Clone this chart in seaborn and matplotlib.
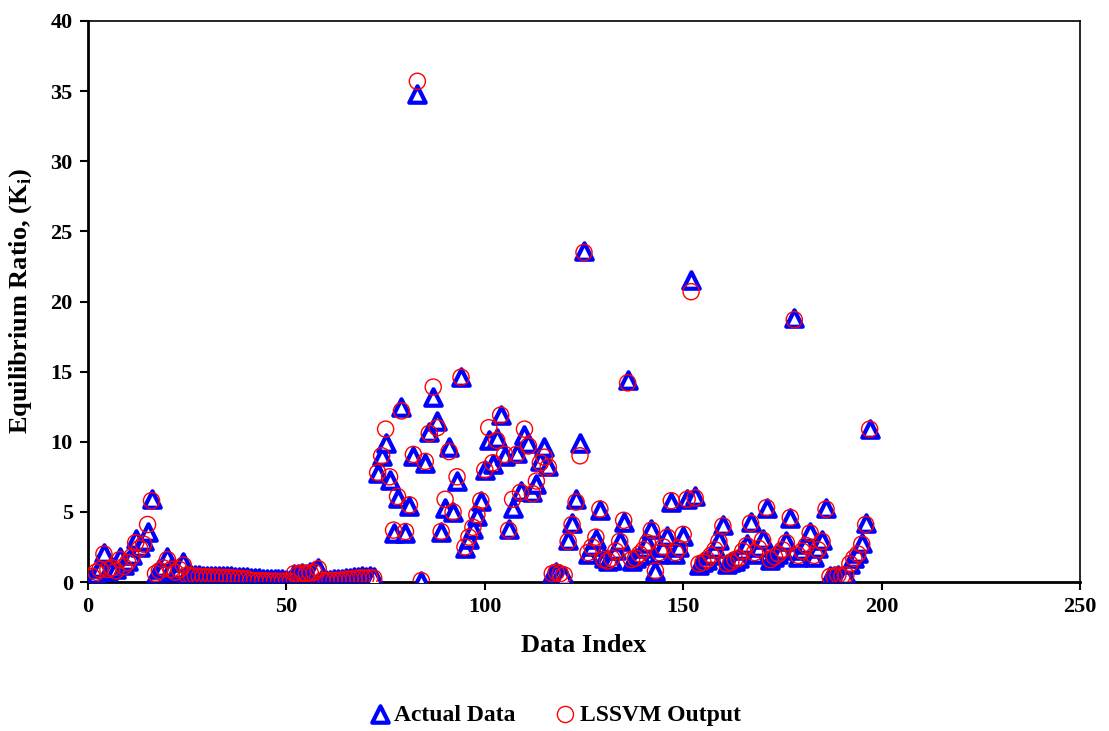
import numpy as np
import pandas as pd
import matplotlib
matplotlib.use('Agg')
import matplotlib.pyplot as plt
import seaborn as sns

# ===== 数据 =====
actual = [
    0.3, 0.6, 1.0, 2.1, 0.8, 1.1, 0.9, 1.8, 1.2, 1.5,
    1.9, 3.1, 2.5, 2.9, 3.6, 5.9, 0.6, 0.9, 1.1, 1.8,
    1.0, 0.7, 0.9, 1.4, 0.6, 0.5, 0.5, 0.48, 0.46, 0.45,
    0.44, 0.43, 0.42, 0.41, 0.4, 0.4, 0.38, 0.37, 0.36, 0.35,
    0.3, 0.28, 0.26, 0.25, 0.24, 0.22, 0.2, 0.2, 0.18, 0.17,
    0.15, 0.6, 0.6, 0.65, 0.6, 0.7, 0.75, 1.0, 0.2, 0.15,
    0.15, 0.2, 0.2, 0.25, 0.3, 0.3, 0.35, 0.35, 0.4, 0.35,
    0.4, 0.35, 7.8, 9.0, 9.9, 7.3, 3.5, 6.0, 12.5, 3.5,
    5.4, 9.0, 34.8, 0.1, 8.5, 10.7, 13.2, 11.5, 3.6, 5.3,
    9.6, 5.0, 7.2, 14.6, 2.4, 3.1, 3.8, 4.7, 5.8, 8.0,
    10.1, 8.4, 10.3, 11.9, 9.0, 3.8, 5.3, 9.2, 6.5, 10.5,
    9.9, 6.4, 7.0, 8.6, 9.6, 8.3, 0.6, 0.7, 0.6, 0.4,
    3.0, 4.2, 5.9, 9.9, 23.6, 2.0, 2.6, 3.1, 5.1, 1.7,
    1.5, 1.6, 2.3, 2.9, 4.3, 14.4, 1.5, 1.7, 1.9, 2.4,
    2.8, 3.8, 0.8, 2.0, 2.5, 3.3, 5.7, 2.0, 2.5, 3.3,
    5.9, 21.5, 6.1, 1.2, 1.4, 1.6, 1.9, 2.4, 3.0, 4.1,
    1.3, 1.4, 1.5, 1.7, 2.3, 2.7, 4.3, 2.0, 2.5, 3.1,
    5.3, 1.6, 1.8, 2.0, 2.3, 2.9, 4.6, 18.8, 1.8, 2.3,
    2.7, 3.6, 1.8, 2.4, 3.0, 5.3, 0.4, 0.4, 0.5, 0.4,
    0.5, 1.3, 1.7, 2.1, 2.8, 4.2, 10.9,
]
lssvm = [
    0.4, 0.7, 0.9, 2.0, 0.9, 1.0, 0.8, 1.6, 1.1, 1.4,
    1.8, 2.8, 2.4, 2.7, 4.1, 5.8, 0.6, 0.8, 1.0, 1.6,
    0.9, 0.7, 0.9, 1.2, 0.5, 0.45, 0.42, 0.4, 0.38, 0.37,
    0.36, 0.35, 0.34, 0.33, 0.32, 0.3, 0.28, 0.26, 0.25, 0.24,
    0.12, 0.1, 0.1, 0.08, 0.08, 0.06, 0.06, 0.05, 0.05, 0.05,
    0.05, 0.6, 0.55, 0.65, 0.6, 0.65, 0.7, 0.95, 0.12, 0.1,
    0.1, 0.12, 0.12, 0.15, 0.2, 0.2, 0.25, 0.28, 0.3, 0.28,
    0.3, 0.28, 7.8, 9.0, 10.9, 7.5, 3.7, 6.1, 12.2, 3.6,
    5.5, 9.1, 35.7, 0.1, 8.6, 10.6, 13.9, 11.0, 3.6, 5.9,
    9.3, 5.0, 7.5, 14.6, 2.5, 3.2, 3.9, 4.8, 5.8, 8.0,
    11.0, 8.5, 10.1, 11.9, 9.1, 3.7, 5.9, 9.1, 6.4, 10.9,
    9.7, 6.3, 7.2, 8.5, 8.9, 8.2, 0.6, 0.7, 0.6, 0.5,
    2.9, 4.1, 5.7, 9.0, 23.5, 2.1, 2.5, 3.2, 5.2, 1.6,
    1.5, 1.7, 2.2, 2.9, 4.4, 14.2, 1.6, 1.7, 2.0, 2.3,
    2.8, 3.7, 0.8, 2.1, 2.5, 3.2, 5.8, 2.1, 2.4, 3.4,
    5.9, 20.7, 6.0, 1.3, 1.4, 1.6, 1.9, 2.3, 2.9, 4.0,
    1.3, 1.4, 1.6, 1.7, 2.2, 2.6, 4.2, 2.1, 2.4, 3.0,
    5.3, 1.6, 1.8, 2.0, 2.3, 2.8, 4.6, 18.7, 1.9, 2.2,
    2.6, 3.5, 1.9, 2.3, 2.9, 5.2, 0.4, 0.4, 0.5, 0.4,
    0.5, 1.3, 1.7, 2.0, 2.7, 4.1, 10.9,
]
index = np.arange(1, len(actual) + 1)
df = pd.DataFrame({'idx': index, 'actual': actual, 'lssvm': lssvm})

# ===== 风格 =====
sns.set_style('white')
plt.rcParams['font.family'] = ['Liberation Serif', 'DejaVu Serif']
plt.rcParams['font.weight'] = 'bold'
plt.rcParams['text.color'] = 'black'
plt.rcParams['axes.labelcolor'] = 'black'
plt.rcParams['xtick.color'] = 'black'
plt.rcParams['ytick.color'] = 'black'
plt.rcParams['mathtext.fontset'] = 'custom'
plt.rcParams['mathtext.rm'] = 'Liberation Serif:bold'
plt.rcParams['mathtext.bf'] = 'Liberation Serif:bold'

fig = plt.figure(figsize=(11.09, 7.31), dpi=100)
ax = fig.add_axes([0.0794, 0.2038, 0.8944, 0.7675])

sns.scatterplot(data=df, x='idx', y='actual', ax=ax, marker='^', s=140,
                facecolor='white', edgecolor='#0000FF', linewidth=3.0,
                label='Actual Data', zorder=3)
sns.scatterplot(data=df, x='idx', y='lssvm', ax=ax, marker='o', s=135,
                facecolor='none', edgecolor='#FF0000', linewidth=1.0,
                label='LSSVM Output', zorder=4)

ax.set_xlim(0, 250)
ax.set_ylim(0, 40)
ax.set_xticks(range(0, 251, 50))
ax.set_yticks(range(0, 41, 5))
ax.tick_params(axis='both', direction='out', length=6, width=1.5,
               labelsize=16, left=True, bottom=True, pad=5)
for lab in ax.get_xticklabels() + ax.get_yticklabels():
    lab.set_fontweight('bold')

for side in ['left', 'bottom']:
    ax.spines[side].set_linewidth(2.0)
for side in ['top', 'right']:
    ax.spines[side].set_linewidth(1.2)
for sp in ax.spines.values():
    sp.set_color('black')

ax.set_xlabel('Data Index', fontsize=19, fontweight='bold', labelpad=12)
ax.set_ylabel(r'Equilibrium Ratio, (K$_\mathrm{i}$)', fontsize=19,
              fontweight='bold', labelpad=12)

handles, labels = ax.get_legend_handles_labels()
ax.legend_.remove()
fig.legend(handles, labels, loc='center', bbox_to_anchor=(0.5, 0.022),
           ncol=2, frameon=False, fontsize=17, handlelength=1.0,
           handletextpad=0.1, columnspacing=1.6, markerscale=1.0)

plt.savefig('out.png', dpi=100)
